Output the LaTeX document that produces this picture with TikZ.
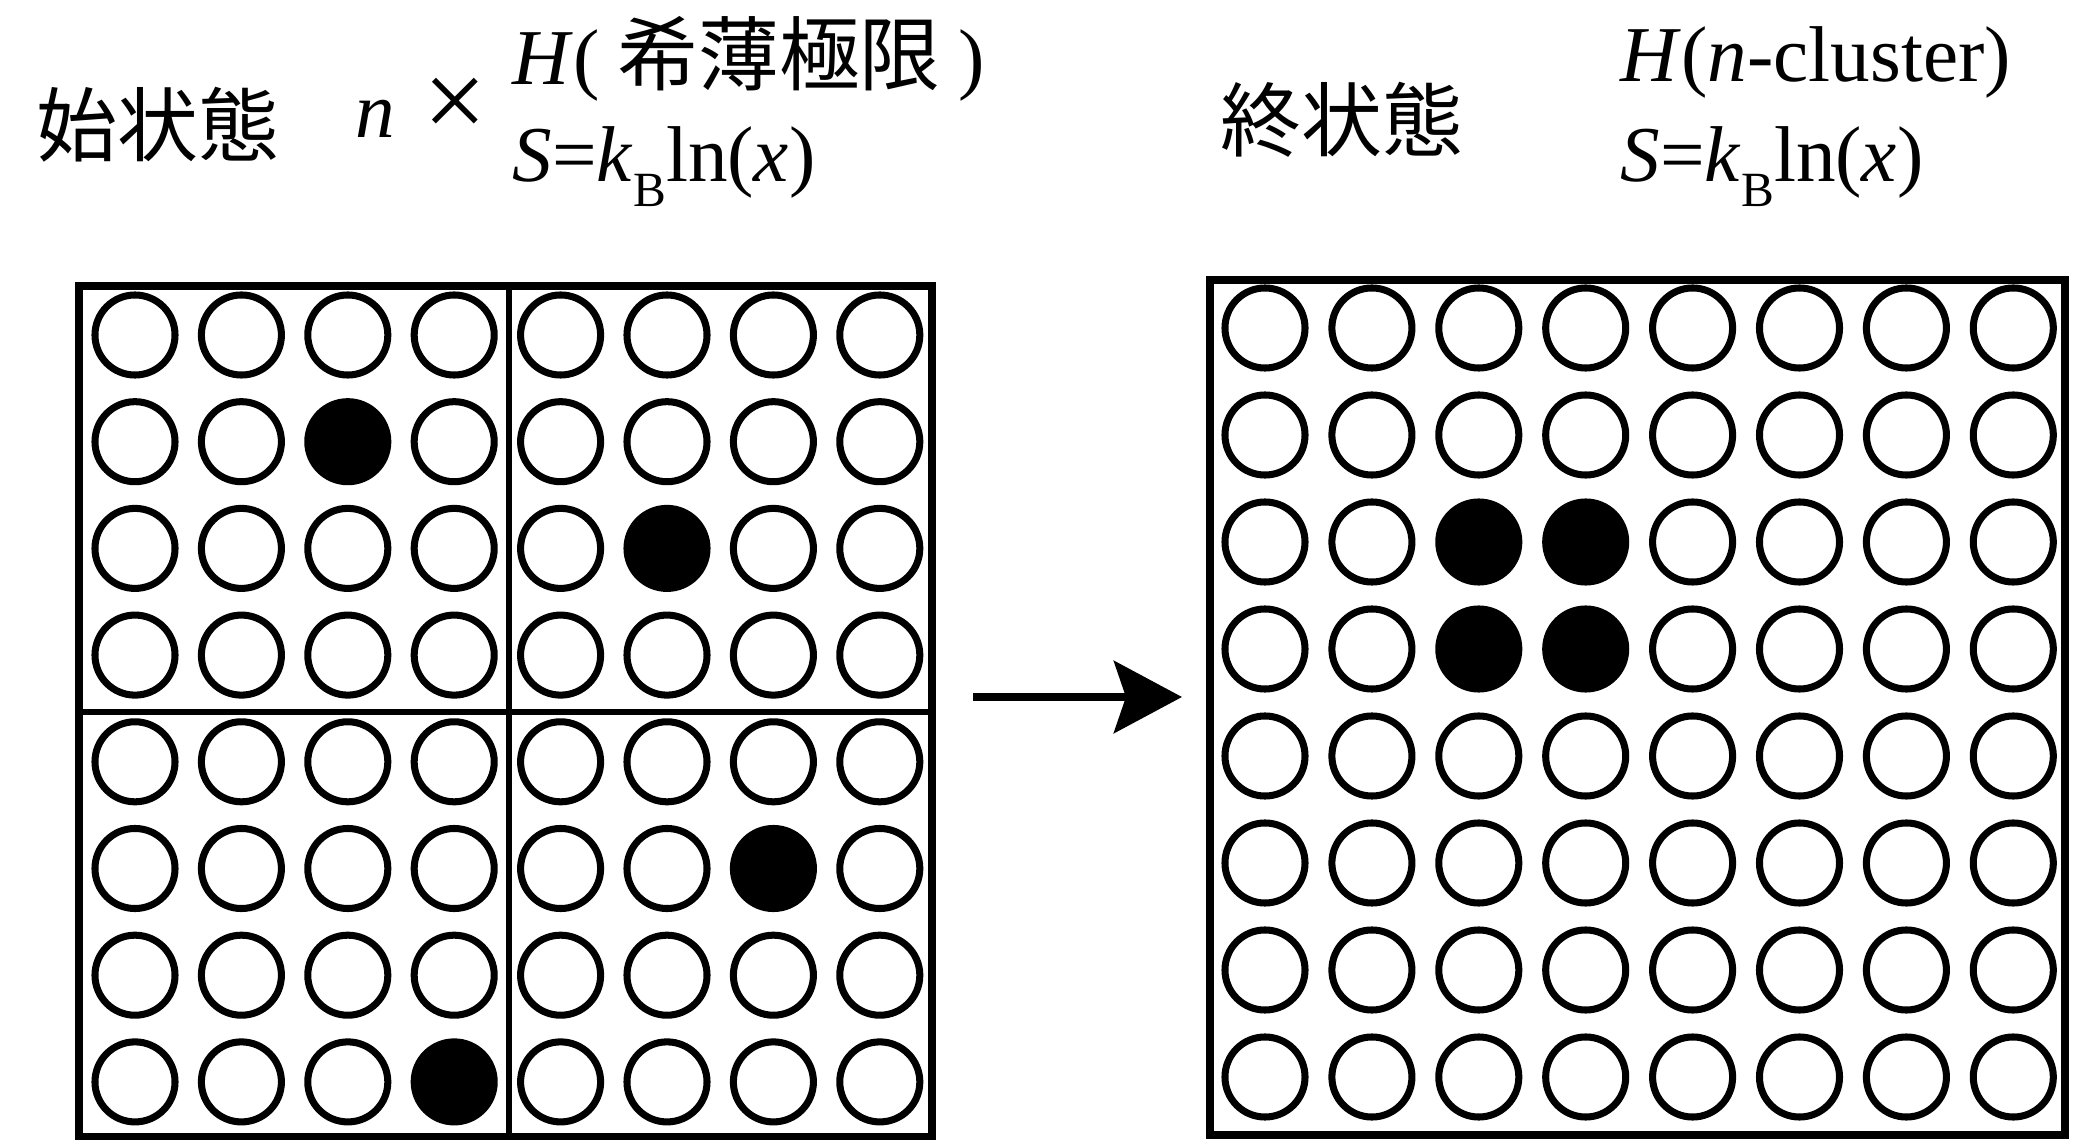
\documentclass[tikz,border=0pt]{standalone}
\usepackage{fontspec}
\setmainfont{Liberation Serif}
\newfontfamily\jpfont{Noto Sans CJK JP}
\usetikzlibrary{arrows.meta,positioning,calc}

\newcommand{\subB}{\raisebox{-7pt}{\fontsize{14}{14}\selectfont B}}

\begin{document}
\begin{tikzpicture}[
    x=0.01cm, y=-0.01cm,
    box/.style={rectangle, draw, line width=2.3pt, inner sep=0pt, outer sep=0pt},
    divider/.style={line width=1.7pt},
    site/.style={circle, draw, line width=2pt, minimum size=0.8cm, inner sep=0pt},
    statetext/.style={inner sep=0pt, font=\jpfont\fontsize{23}{23}\selectfont},
    formula/.style={inner sep=0pt, anchor=base west, font=\fontsize{22.5}{27}\selectfont},
    arrow/.style={-{Stealth[length=0.68cm, width=0.72cm, inset=0.12cm]}, line width=2.3pt}
]
\fill[white] (0,0) rectangle (2084,1140);
\useasboundingbox (0,0) rectangle (2084,1140);

% Headings
\node[statetext] (initlabel) at (158,125) {始状態};
\node[formula] (nmul) at (355,138) {\textit{n}};
\node[inner sep=0pt, font=\fontsize{32}{32}\selectfont] (times) at (455,108) {×};
\node[formula] (initH) at (512,85) {\textit{H}(\hspace{5pt}{\jpfont\fontsize{23}{23}\selectfont 希薄極限}\hspace{5pt})};
\node[formula] (initS) at (512,182) {\textit{S}=\textit{k}\subB ln(\textit{x})};

\node[statetext] (finallabel) at (1342,120) {終状態};
\node[formula] (finalH) at (1620,82) {\textit{H}(\textit{n}-cluster)};
\node[formula] (finalS) at (1620,182) {\textit{S}=\textit{k}\subB ln(\textit{x})};

% Initial state: four 4x4 cells, one occupied site each
\node[box, minimum width=8.53cm, minimum height=8.51cm] (initbox) at (505.5,711.5) {};
\draw[divider] (509,286) -- (509,1137);
\draw[divider] (79,712) -- (928,712);
\foreach \r in {0,...,7}
  \foreach \c in {0,...,7} {
    \pgfmathtruncatemacro\idx{8*\r+\c}
    \pgfmathtruncatemacro\pct{100*((\idx==10)||(\idx==21)||(\idx==46)||(\idx==59))}
    \node[site, fill=black!\pct] (i-\r-\c) at ({135+106.4*\c},{335+106.7*\r}) {};
  }

% Final state: one cluster of four
\node[box, minimum width=8.55cm, minimum height=8.55cm] (finalbox) at (1637.5,707.5) {};
\foreach \r in {0,...,7}
  \foreach \c in {0,...,7} {
    \pgfmathtruncatemacro\idx{8*\r+\c}
    \pgfmathtruncatemacro\pct{100*((\idx==18)||(\idx==19)||(\idx==26)||(\idx==27))}
    \node[site, fill=black!\pct] (f-\r-\c) at ({1265+106.9*\c},{328+107*\r}) {};
  }

% Arrow
\coordinate (arrS) at (973,697);
\coordinate (arrE) at (1182,697);
\draw[arrow] (arrS) -- (arrE);

\end{tikzpicture}
\end{document}
